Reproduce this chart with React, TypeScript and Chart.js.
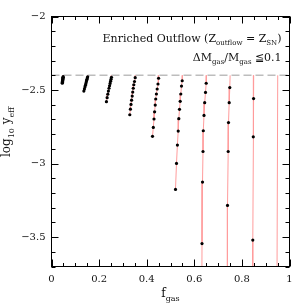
import React, { useEffect, useRef } from "react";
import { Chart, registerables } from "chart.js";
Chart.register(...registerables);

// ---- data ----
const xTickValues = [0, 0.2, 0.4, 0.6, 0.8, 1];
const xTickLabels = ["0", "0.2", "0.4", "0.6", "0.8", "1"];
const yTickValues = [-3.5, -3, -2.5, -2];
const yTickLabels = ["\u22123.5", "\u22123", "\u22122.5", "\u22122"];

const refLineFgas = [0, 1];
const refLineLogY = [-2.4, -2.4];

const startFgas = [0.0492, 0.1525, 0.2525, 0.3525, 0.4512, 0.5505, 0.6515, 0.7505, 0.8495, 0.9505];
const startLogY = [-2.4, -2.4, -2.4, -2.4, -2.4, -2.4, -2.4, -2.4, -2.4, -2.4];

const trackFgas: number[][] = [
  [0.049, 0.0487, 0.0483, 0.048, 0.0476, 0.0472, 0.0468, 0.0463, 0.0458, 0.0452],
  [0.152, 0.1505, 0.149, 0.1475, 0.146, 0.1443, 0.1425, 0.1405, 0.1383, 0.136],
  [0.252, 0.2502, 0.2483, 0.2462, 0.244, 0.2417, 0.2392, 0.2366, 0.2338, 0.2308],
  [0.3517, 0.3487, 0.3458, 0.3435, 0.3414, 0.3391, 0.3365, 0.334, 0.3316, 0.329],
  [0.45, 0.4475, 0.444, 0.4408, 0.438, 0.4358, 0.4332, 0.4307, 0.4277, 0.4244],
  [0.5492, 0.5462, 0.5433, 0.5408, 0.5378, 0.5349, 0.5324, 0.529, 0.5252, 0.521],
  [0.65, 0.6471, 0.6437, 0.6408, 0.6378, 0.6366, 0.6345, 0.6324],
  [0.7492, 0.7466, 0.7437, 0.7424, 0.7395],
  [0.849, 0.8478, 0.8458],
  [],
];
const trackLogY: number[][] = [
  [-2.409, -2.413, -2.417, -2.421, -2.426, -2.431, -2.436, -2.441, -2.447, -2.454],
  [-2.41, -2.418, -2.427, -2.436, -2.446, -2.457, -2.468, -2.48, -2.493, -2.507],
  [-2.413, -2.426, -2.44, -2.455, -2.471, -2.488, -2.507, -2.528, -2.552, -2.579],
  [-2.416, -2.442, -2.464, -2.488, -2.514, -2.541, -2.569, -2.598, -2.63, -2.668],
  [-2.42, -2.459, -2.493, -2.527, -2.561, -2.602, -2.648, -2.697, -2.754, -2.815],
  [-2.437, -2.473, -2.527, -2.577, -2.631, -2.695, -2.779, -2.874, -2.999, -3.176],
  [-2.454, -2.516, -2.586, -2.673, -2.777, -2.918, -3.126, -3.544],
  [-2.483, -2.586, -2.721, -2.918, -3.285],
  [-2.558, -2.818, -3.52],
  [],
];
// continuation of the tracks below the plotted range
const tailFgas: number[][] = [[], [], [], [], [], [], [0.631], [0.739], [0.8455], [0.947]];
const tailLogY: number[][] = [[], [], [], [], [], [], [-4.2], [-4.4], [-4.2], [-4.0]];

const xMin = 0, xMax = 1, xMinorStep = 0.05, xMajorStep = 0.2;
const yMin = -3.7, yMax = -2, yMinorStep = 0.1, yMajorStep = 0.5;

const FONT = "'DejaVu Serif', 'Liberation Serif', serif";

type Part = { t: string; sub?: boolean };

function drawRich(ctx: CanvasRenderingContext2D, parts: Part[], x: number, y: number, size: number, subSize: number, align: "left" | "right" | "center") {
  const widths = parts.map((p) => {
    ctx.font = `${p.sub ? subSize : size}px ${FONT}`;
    return ctx.measureText(p.t).width;
  });
  const total = widths.reduce((a, b) => a + b, 0);
  let cx = align === "left" ? x : align === "right" ? x - total : x - total / 2;
  ctx.textAlign = "left";
  ctx.textBaseline = "alphabetic";
  parts.forEach((p, i) => {
    ctx.font = `${p.sub ? subSize : size}px ${FONT}`;
    ctx.fillText(p.t, cx, p.sub ? y + size * 0.3 : y);
    cx += widths[i];
  });
}

const framePlugin = {
  id: "framePlugin",
  afterDraw(chart: any) {
    const { ctx, chartArea: a, scales } = chart;
    const xs = scales.x, ys = scales.y;
    ctx.save();
    ctx.strokeStyle = "#000";
    ctx.lineWidth = 1;
    ctx.strokeRect(a.left, a.top, a.right - a.left, a.bottom - a.top);
    ctx.beginPath();
    const nX = Math.round((xMax - xMin) / xMinorStep);
    for (let i = 0; i <= nX; i++) {
      const v = xMin + i * xMinorStep;
      const major = Math.abs(v / xMajorStep - Math.round(v / xMajorStep)) < 1e-6;
      const len = major ? 7 : 3.5;
      const px = Math.round(xs.getPixelForValue(v)) + 0.5;
      ctx.moveTo(px, a.bottom);
      ctx.lineTo(px, a.bottom - len);
      ctx.moveTo(px, a.top);
      ctx.lineTo(px, a.top + len);
    }
    const nY = Math.round((yMax - yMin) / yMinorStep);
    for (let i = 0; i <= nY; i++) {
      const v = yMin + i * yMinorStep;
      const major = Math.abs(v / yMajorStep - Math.round(v / yMajorStep)) < 1e-6;
      const len = major ? 7 : 4;
      const py = Math.round(ys.getPixelForValue(v)) + 0.5;
      ctx.moveTo(a.left, py);
      ctx.lineTo(a.left + len, py);
      ctx.moveTo(a.right, py);
      ctx.lineTo(a.right - len, py);
    }
    ctx.stroke();

    ctx.fillStyle = "#111";
    // annotation
    drawRich(ctx, [
      { t: "Enriched Outflow (Z" },
      { t: "outflow", sub: true },
      { t: " = Z" },
      { t: "SN", sub: true },
      { t: ")" },
    ], a.right - 8, 42, 11, 7, "right");
    drawRich(ctx, [
      { t: "\u0394M" },
      { t: "gas", sub: true },
      { t: "/M" },
      { t: "gas", sub: true },
      { t: " \u22660.1" },
    ], a.right - 8, 61, 11, 7, "right");

    // x title
    drawRich(ctx, [{ t: "f" }, { t: "gas", sub: true }], (a.left + a.right) / 2, 297, 12, 8, "center");
    // y title
    ctx.save();
    ctx.translate(10, 132);
    ctx.rotate(-Math.PI / 2);
    drawRich(ctx, [{ t: "log" }, { t: "10", sub: true }, { t: " y" }, { t: "eff", sub: true }], 0, 0, 12, 8, "center");
    ctx.restore();
    ctx.restore();
  },
};

export default function App() {
  const ref = useRef<HTMLCanvasElement>(null);
  useEffect(() => {
    if (!ref.current) return;
    const datasets: any[] = [];
    for (let c = 0; c < trackFgas.length; c++) {
      const pts = trackFgas[c].map((x, i) => ({ x, y: trackLogY[c][i] }));
      const tail = tailFgas[c].map((x, i) => ({ x, y: tailLogY[c][i] }));
      datasets.push({
        type: "scatter",
        data: pts,
        showLine: false,
        pointRadius: 1.6,
        pointBackgroundColor: "#000",
        pointBorderWidth: 0,
        order: 0,
      });
      datasets.push({
        type: "scatter",
        data: [{ x: startFgas[c], y: startLogY[c] }, ...pts, ...tail],
        showLine: true,
        borderColor: "#ff9c9c",
        borderWidth: 1,
        pointRadius: 0,
        order: 2,
      });
    }
    datasets.push({
      type: "scatter",
      data: refLineFgas.map((x, i) => ({ x, y: refLineLogY[i] })),
      showLine: true,
      borderColor: "#bdbdbd",
      borderWidth: 1.5,
      borderDash: [8, 4],
      pointRadius: 0,
      order: 1,
    });

    const chart = new Chart(ref.current, {
      type: "scatter",
      data: { datasets },
      options: {
        animation: false,
        responsive: false,
        devicePixelRatio: 1,
        layout: { padding: { left: 0, top: 16.5, right: 15.5, bottom: 0 } },
        plugins: { legend: { display: false }, tooltip: { enabled: false } },
        scales: {
          x: {
            type: "linear",
            min: xMin,
            max: xMax,
            grid: { display: false, drawTicks: false },
            border: { display: false },
            afterBuildTicks: (s: any) => { s.ticks = xTickValues.map((v) => ({ value: v })); },
            afterFit: (s: any) => { s.height = 38.5; },
            ticks: {
              padding: 7,
              color: "#111",
              maxRotation: 0,
              font: { family: FONT, size: 10 },
              callback: (v: any) => xTickLabels[xTickValues.findIndex((t) => Math.abs(t - v) < 1e-9)],
            },
          },
          y: {
            type: "linear",
            min: yMin,
            max: yMax,
            grid: { display: false, drawTicks: false },
            border: { display: false },
            afterBuildTicks: (s: any) => { s.ticks = yTickValues.map((v) => ({ value: v })); },
            afterFit: (s: any) => { s.width = 51.5; },
            ticks: {
              padding: 6,
              color: "#111",
              font: { family: FONT, size: 10 },
              callback: (v: any) => yTickLabels[yTickValues.findIndex((t) => Math.abs(t - v) < 1e-9)],
            },
          },
        },
      },
      plugins: [framePlugin],
    } as any);
    return () => chart.destroy();
  }, []);
  return (
    <div style={{ position: "fixed", left: 0, top: 0, width: 305, height: 305, background: "#fff" }}>
      <canvas ref={ref} width={305} height={305} style={{ width: 305, height: 305 }} />
    </div>
  );
}
